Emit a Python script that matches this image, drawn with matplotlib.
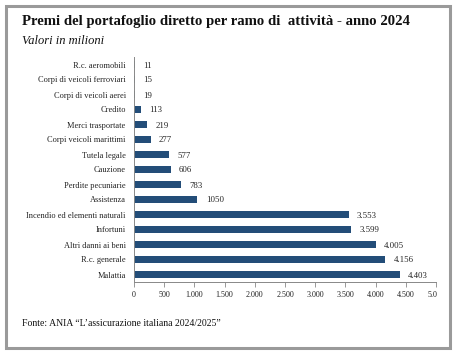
import matplotlib
matplotlib.use("Agg")
import matplotlib.pyplot as plt
from matplotlib.patches import Rectangle
from matplotlib.transforms import Bbox, TransformedBbox

categories = ["R.c. aeromobili", "Corpi di veicoli ferroviari", "Corpi di veicoli aerei",
              "Credito", "Merci trasportate", "Corpi veicoli marittimi", "Tutela legale",
              "Cauzione", "Perdite pecuniarie", "Assistenza",
              "Incendio ed elementi naturali", "Infortuni", "Altri danni ai beni",
              "R.c. generale", "Malattia"]
values = [11, 15, 19, 113, 219, 277, 577, 606, 783, 1050, 3553, 3599, 4005, 4156, 4403]
value_labels = ["11", "15", "19", "113", "219", "277", "577", "606", "783", "1050",
                "3.553", "3.599", "4.005", "4.156", "4.403"]
xticks = [0, 500, 1000, 1500, 2000, 2500, 3000, 3500, 4000, 4500, 5000]
xtick_labels = ["0", "500", "1.000", "1.500", "2.000", "2.500", "3.000", "3.500",
                "4.000", "4.500", "5.000"]

title = "Premi del portafoglio diretto per ramo di  attività - anno 2024"
subtitle = "Valori in milioni"
source = "Fonte: ANIA \u201cL\u2019assicurazione italiana 2024/2025\u201d"

W, H = 458, 357
fig = plt.figure(figsize=(W / 100, H / 100), dpi=100)
fig.patch.set_facecolor("white")
serif = ["Liberation Serif", "DejaVu Serif"]

# outer frame
fig.patches.append(Rectangle((6 / W, 1 - 348 / H), 444 / W, 342 / H,
                             transform=fig.transFigure, fill=False,
                             edgecolor="#9a9a9a", linewidth=2.2))

ax = fig.add_axes([134 / W, 1 - 282 / H, 302 / W, 225 / H])
bar_color = "#234d78"
y = list(range(len(categories)))
ax.barh(y, values, height=0.5, color=bar_color)
ax.set_ylim(len(categories) - 0.5, -0.5)
ax.set_xlim(0, 5000)
ax.set_yticks(y)
ax.set_yticklabels(categories, fontsize=6.0, family=serif, color="#222222")
ax.tick_params(axis="y", length=0, pad=6)
ax.set_xticks(xticks)
ax.set_xticklabels(xtick_labels, fontsize=5.8, family=serif, color="#222222")
ax.tick_params(axis="x", length=3.5, width=0.6, color="#888888", pad=3)
for s in ["top", "right"]:
    ax.spines[s].set_visible(False)
for s in ["left", "bottom"]:
    ax.spines[s].set_color("#888888")
    ax.spines[s].set_linewidth(0.7)

for yi, v, lab in zip(y, values, value_labels):
    ax.annotate(lab, (v, yi), xytext=(6, 0), textcoords="offset points",
                va="center_baseline", ha="left", fontsize=6.3, family=serif,
                color="#222222")

clip = TransformedBbox(Bbox([[0, 0], [437 / W, 1]]), fig.transFigure)
last = ax.get_xticklabels()[-1]
last.set_clip_box(clip)
last.set_clip_on(True)

fig.text(22 / W, 1 - 22 / H, title, fontsize=10.6, fontweight="bold", family=serif,
         va="center", ha="left", color="#111111")
fig.text(22 / W, 1 - 41 / H, subtitle, fontsize=9, style="italic", family=serif,
         va="center", ha="left", color="#111111")
fig.text(22 / W, 1 - 323 / H, source, fontsize=7, family=serif,
         va="center", ha="left", color="#111111")

fig.savefig("out.png", dpi=100)
